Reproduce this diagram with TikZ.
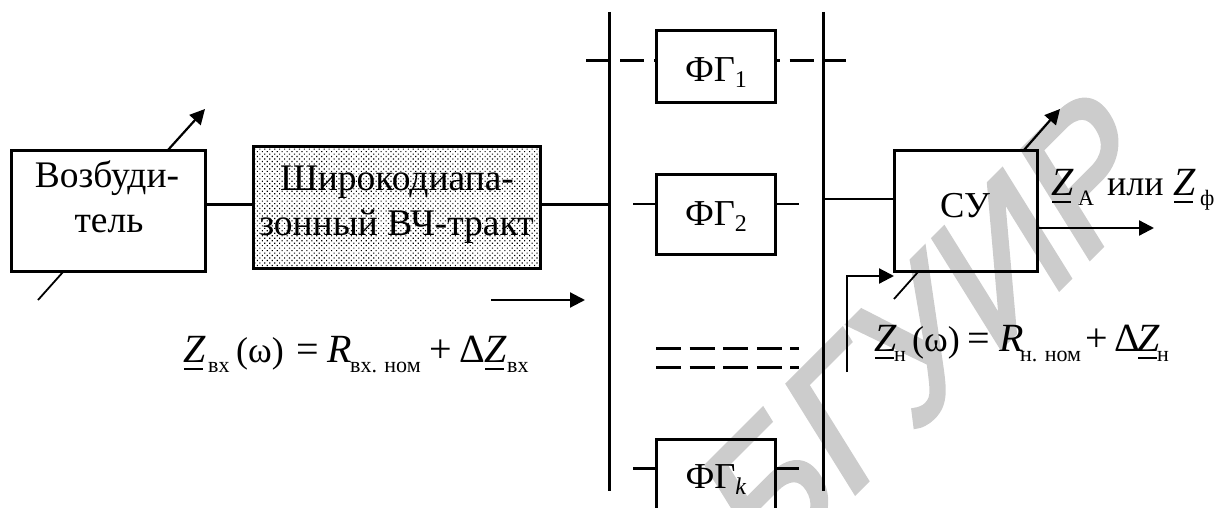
\documentclass[tikz,border=0pt]{standalone}
\usepackage{fontspec}
\setmainfont{Liberation Serif}
\newfontfamily\wmfont[FakeBold=2.5]{Liberation Sans}
\usetikzlibrary{arrows.meta,patterns.meta}
\tikzset{
  block/.style={draw=black,line width=3pt,line join=miter},
  wire/.style={line width=2.9pt},
  thin wire/.style={line width=2.4pt},
  arr/.style={line width=2.2pt,-{Triangle[length=15pt,width=15pt]}},
  lbl/.style={inner sep=0pt,font=\fontsize{37.5}{45}\selectfont},
  lblb/.style={inner sep=0pt,font=\fontsize{36.5}{45}\selectfont},
  frm/.style={inner sep=0pt,anchor=base west,font=\fontsize{36}{40}\selectfont},
  dash1/.style={line width=2.9pt,dash pattern=on 24pt off 10pt},
  dash2/.style={line width=2.9pt,dash pattern=on 25pt off 8.6pt},
}
\newcommand{\putat}[2]{\rlap{\hspace*{#1pt}#2}}
\newcommand{\uZ}{{\fontsize{40}{40}\selectfont\rlap{\hspace*{1pt}\rule[-7.5pt]{19pt}{1.6pt}}\textit{Z}}}
\newcommand{\bigR}{{\fontsize{40}{40}\selectfont\textit{R}}}
\newcommand{\bigD}{{\fontsize{40}{40}\selectfont Δ}}
\newcommand{\sbs}[1]{\raisebox{-10.5pt}{\fontsize{22}{22}\selectfont #1}}
\newcommand{\sbf}[1]{\raisebox{-6pt}{\fontsize{24}{24}\selectfont #1}}
\begin{document}
\begin{tikzpicture}[x=1pt,y=-1pt]
\useasboundingbox (0,0) rectangle (1216,508);
% watermark
\begin{scope}
\clip (0,0) rectangle (1216,508);
\node[text=black!20,cm={.707,.707,-.56,.9,(0,0)},anchor=base west,font=\wmfont\fontsize{175}{175}\selectfont,inner sep=0pt] (wm) at (764,584) {БГУИР};
\end{scope}
% blocks
\node[block,minimum width=194pt,minimum height=121pt,inner sep=0pt] (exc) at (108,211) {};
\node[lbl,anchor=base] (exct) at (107,188) {Возбуди-};
\node[lbl,anchor=base] (exct2) at (109,233) {тель};
\node[block,pattern={Dots[distance=3.5pt,angle=45,radius=.8pt]},minimum width=287pt,minimum height=121pt,inner sep=0pt] (hf) at (396.5,207.5) {};
\node[lbl,anchor=base] (hft) at (397,190) {Широкодиапа-};
\node[lbl,anchor=base] (hft2) at (396.5,235) {зонный ВЧ-тракт};
\coordinate (b1t) at (609.5,12); \coordinate (b1b) at (609.5,491);
\coordinate (b2t) at (823.5,12); \coordinate (b2b) at (823.5,491);
\draw[wire] (b1t) -- (b1b);
\draw[wire] (b2t) -- (b2b);
\node[block,minimum width=119pt,minimum height=72pt,inner sep=0pt] (f1) at (716,67) {};
\node[block,minimum width=119pt,minimum height=79pt,inner sep=0pt] (f2) at (716,214.5) {};
\draw[block] (656.5,515) -- (656.5,439) -- (775.5,439) -- (775.5,515);
\node[block,minimum width=143pt,minimum height=121pt,inner sep=0pt] (su) at (965.5,211) {};
\node[lblb,anchor=base] (f1t) at (716,82) {ФΓ\sbf{1}};
\node[lblb,anchor=base] (f2t) at (716,225) {ФΓ\sbf{2}};
\node[lblb,anchor=base] (f3t) at (716,488) {ФΓ\sbf{\textit{k}}};
\node[lblb,anchor=base] (sut) at (965,217) {СУ};
% connectors
\draw[wire] (exc.east|-0,204.5) -- (hf.west|-0,204.5);
\draw[wire] (hf.east|-0,204.5) -- (b1t|-0,204.5);
\coordinate (d1l) at (586,60.5); \coordinate (d1r) at (846,60.5);
\draw[dash1] (d1l) -- (f1.west|-d1l);
\draw[dash1,dash phase=21.5pt] (f1.east|-d1l) -- (d1r);
\coordinate (l2a) at (633,204); \coordinate (l2b) at (799,204);
\draw[thin wire] (l2a) -- (f2.west|-l2a);
\draw[thin wire] (f2.east|-l2a) -- (l2b);
\coordinate (d3l) at (656,348.5); \coordinate (d3r) at (799,348.5);
\coordinate (d4l) at (656,367.5); \coordinate (d4r) at (799,367.5);
\draw[dash2] (d3l) -- (d3r);
\draw[dash2] (d4l) -- (d4r);
\coordinate (lka) at (633,468.5); \coordinate (lkb) at (799,468.5);
\draw[wire] (lka) -- (656,468.5);
\draw[wire] (775,468.5) -- (lkb);
\draw[thin wire] (b2t|-0,199) -- (su.west|-0,199);
\coordinate (out) at (1154,228);
\draw[arr] (su.east|-out) -- (out);
% tuning arrows
\coordinate (e1) at (168,150); \coordinate (e2) at (205,109);
\coordinate (e3) at (63,272); \coordinate (e4) at (38,300);
\draw[arr] (e1) -- (e2);
\draw[line width=1.8pt] (e3) -- (e4);
\coordinate (s1) at (1024,150); \coordinate (s2) at (1060,109);
\coordinate (s3) at (918,272); \coordinate (s4) at (894,299);
\draw[arr] (s1) -- (s2);
\draw[line width=1.8pt] (s3) -- (s4);
\coordinate (z1) at (491,300); \coordinate (z2) at (585,300);
\draw[arr] (z1) -- (z2);
\coordinate (z3) at (847,372); \coordinate (z4) at (894,276);
\draw[arr] (z3) |- (z4);
% formulas
\node[frm] (fa) at (183,362) {\putat{0}{\uZ}\putat{25}{\sbs{вх}}\putat{53}{(ω)}\putat{113}{{\fontsize{40}{40}\selectfont =}}\putat{144}{\bigR}\putat{167}{\sbs{вх. ном}}\putat{246}{{\fontsize{40}{40}\selectfont +}}\putat{276}{\bigD}\putat{301}{\uZ}\putat{324}{\sbs{вх}}\hspace*{345pt}};
\node[frm] (fb) at (874,351) {\putat{0}{\uZ}\putat{20}{\sbs{н}}\putat{38}{(ω)}\putat{93}{{\fontsize{40}{40}\selectfont =}}\putat{125}{\bigR}\putat{146}{\sbs{н. ном}}\putat{211}{{\fontsize{40}{40}\selectfont +}}\putat{240}{\bigD}\putat{263}{\uZ}\putat{283}{\sbs{н}}\hspace*{294pt}};
\node[frm] (fc) at (1051,195) {\putat{0}{\uZ}\putat{27}{\sbs{А}}\putat{56}{или}\putat{122}{\uZ}\putat{149}{\sbs{ф}}\hspace*{162pt}};
\end{tikzpicture}
\end{document}
